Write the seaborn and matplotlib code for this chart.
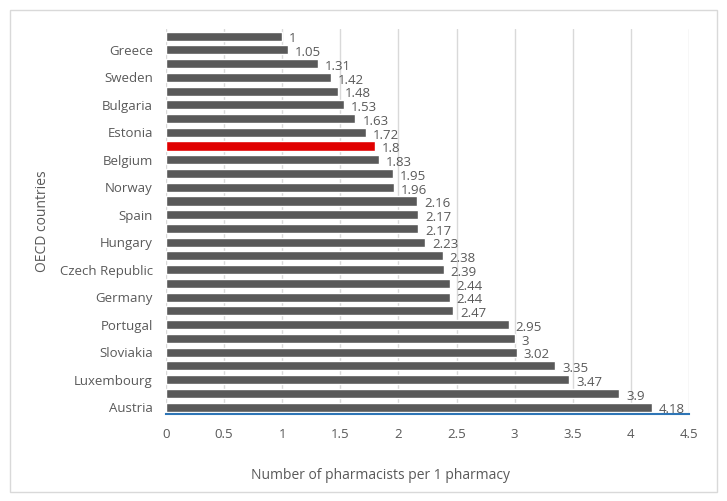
import matplotlib
matplotlib.use("Agg")
import matplotlib.pyplot as plt
import seaborn as sns
import pandas as pd
from matplotlib.patches import Rectangle

# values read top to bottom
values = [1, 1.05, 1.31, 1.42, 1.48, 1.53, 1.63, 1.72, 1.8, 1.83, 1.95, 1.96,
          2.16, 2.17, 2.17, 2.23, 2.38, 2.39, 2.44, 2.44, 2.47, 2.95, 3, 3.02,
          3.35, 3.47, 3.9, 4.18]
# only every other country name is shown on the axis
country_labels = ["", "Greece", "", "Sweden", "", "Bulgaria", "", "Estonia",
                  "", "Belgium", "", "Norway", "", "Spain", "", "Hungary", "",
                  "Czech Republic", "", "Germany", "", "Portugal", "", "Sloviakia",
                  "", "Luxembourg", "", "Austria"]
highlight_index = 8
xticks = [0, 0.5, 1, 1.5, 2, 2.5, 3, 3.5, 4, 4.5]

sns.set_theme(style="white")
plt.rcParams["font.family"] = ["Open Sans", "DejaVu Sans"]

df = pd.DataFrame({"row": [str(i) for i in range(len(values))], "value": values})
colors = ["#E00000" if i == highlight_index else "#595959" for i in range(len(values))]

fig = plt.figure(figsize=(7.27, 5.01), dpi=100)
ax = fig.add_axes([0.2283, 0.1737, 0.7194, 0.768])

sns.barplot(data=df, x="value", y="row", hue="row", palette=colors,
            orient="h", width=0.66, saturation=1, legend=False, ax=ax, zorder=3)

ax.set_xlim(0, 4.5)
ax.set_ylim(len(values) - 0.5, -0.5)
ax.set_xticks(xticks)
ax.set_xticklabels([f"{t:g}" for t in xticks], color="#595959", fontsize=9.5)
ax.set_yticks(range(len(values)))
ax.set_yticklabels(country_labels, color="#595959", fontsize=9.5)
ax.tick_params(axis="both", length=0)
ax.tick_params(axis="x", pad=10)
ax.tick_params(axis="y", pad=9.5)

ax.grid(axis="x", color="#D9D9D9", linewidth=1, zorder=0)
for side in ["top", "right", "left"]:
    ax.spines[side].set_visible(False)
ax.spines["bottom"].set_color("#2E75B6")
ax.spines["bottom"].set_linewidth(1.5)
ax.spines["bottom"].set_zorder(4)

for i, v in enumerate(values):
    ax.annotate(f"{v:g}", xy=(v, i), xytext=(5, -2), textcoords="offset points",
                va="center", ha="left", fontsize=9.5, color="#595959")

ax.set_xlabel("Number of pharmacists per 1 pharmacy", fontsize=10, color="#595959")
ax.xaxis.set_label_coords(0.41, -0.14)
ax.set_ylabel("OECD countries", fontsize=10, color="#595959", labelpad=7)

fig.patches.append(Rectangle((10 / 727, 9 / 501), 707 / 727, 482 / 501,
                             transform=fig.transFigure, fill=False,
                             edgecolor="#D9D9D9", linewidth=1))

fig.savefig("out.png", dpi=100)
